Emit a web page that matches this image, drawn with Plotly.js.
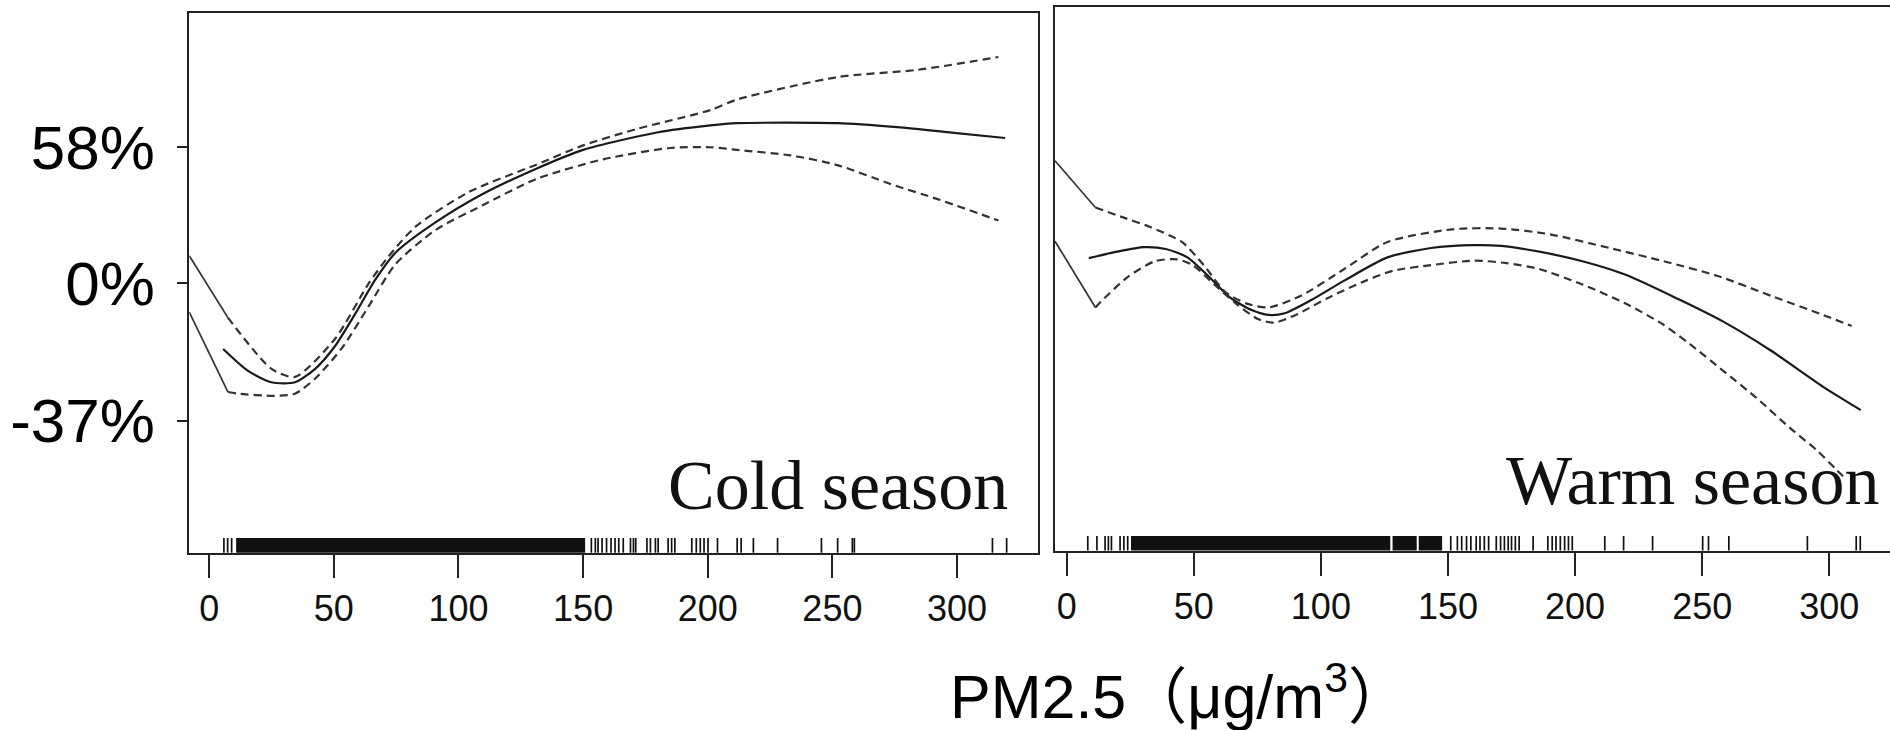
<!DOCTYPE html>
<html><head><meta charset="utf-8">
<script src="https://cdn.plot.ly/plotly-3.0.1.min.js"></script>
<style>html,body{margin:0;padding:0;background:#fff;} #chart{width:1890px;height:730px;}</style>
</head><body><div id="chart"></div>
<script>
// ---- Data (percent change in risk vs PM2.5, µg/m3) ----
const xTicks = [0, 50, 100, 150, 200, 250, 300];
const yTickRR = [0.63, 1, 1.58];
const yTickText = ['-37%', '0%', '58%'];
const panelLabels = ['Cold season', 'Warm season'];
const xTitle = 'PM2.5（μg/m<sup>3</sup>）';

// Cold season
const coldCenterX = [5.6, 15.6, 25, 34.4, 42.5, 50.5, 58.6, 66.7, 74.7, 90.9, 109.7, 131.2, 150, 179.6, 201, 211.8, 252, 276, 297.8, 319.3];
const coldCenterP = [-19.8, -25.5, -28.3, -28.3, -25, -19, -9.7, 1.3, 10.8, 22.8, 35, 47, 56.6, 66, 70, 71.3, 71.3, 69, 66, 63];
const coldUpperX = [-8, 7.5, 25, 34.4, 50.5, 64, 72, 82.8, 104.3, 131.2, 150, 171.5, 201, 211.8, 252, 284.4, 316.6];
const coldUpperP = [9.7, -10.9, -25, -27, -17, 0, 9.5, 21, 36, 49, 59, 68, 79, 85.5, 100, 105, 114];
const coldLowerX = [-8, 7.5, 11.6, 26.3, 34.4, 42.5, 53.2, 64, 74.7, 90.9, 109.7, 131.2, 158, 184.9, 201, 211.8, 233.3, 252, 273.6, 292.5, 316.6];
const coldLowerP = [-9.2, -30.6, -31, -31.5, -31, -27.4, -19.6, -7.4, 6.6, 19.7, 30, 42, 51.7, 57.6, 58, 56.6, 53.7, 48.8, 39.5, 32.6, 23.5];

// Warm season
const warmCenterX = [8.7, 19.8, 30.4, 39, 47.5, 56, 64.5, 73, 79.4, 85.8, 96.4, 109.2, 126.2, 143.3, 160.3, 171, 185.9, 202.9, 219.9, 241.2, 258.3, 276.7, 297.6, 312.4];
const warmCenterP = [8.8, 11.2, 12.9, 12.2, 9.1, 2.2, -4.8, -8.7, -10.1, -9.6, -5.4, 0.9, 9.1, 12.6, 13.7, 13.4, 11.2, 7.7, 2.9, -5.4, -12.1, -20.1, -29.4, -34.7];
const warmUpperX = [-4.6, 11.3, 21.9, 32.6, 45.3, 53.9, 62.4, 70.9, 79.4, 92.2, 109.2, 126.2, 151.8, 171, 190.1, 213.5, 234.8, 256.1, 278, 297.6, 308.8];
const warmUpperP = [51, 29, 24.9, 20.9, 14.9, 6.3, -2.9, -6.6, -7.8, -4.1, 4.9, 14.9, 19.9, 20.2, 17.9, 12.6, 7.7, 2.5, -4.4, -10.1, -13.4];
const warmLowerX = [-4.6, 11.3, 13.4, 24.1, 34.7, 43.2, 49.6, 58.1, 66.6, 75.2, 81.5, 90.1, 102.8, 117.7, 128.4, 143.3, 160.3, 173.1, 185.9, 202.9, 219.9, 234.8, 245.2, 258.3, 271.4, 284.5, 295, 302.9, 306];
const warmLowerP = [15.2, -7.8, -6, 2.2, 7.7, 8.4, 6.3, -0.4, -6.6, -11.3, -12.4, -10.1, -4.8, 0.9, 4.3, 6.3, 7.9, 7, 4.9, -0.4, -6.6, -13, -18.5, -25.5, -32, -38.5, -42.9, -46.6, -48];

// Rug (observed PM2.5 values); dense stretches given as [from, to]
const rugColdX = [5.9, 7.4, 9.0, 153.3, 154.9, 156.0, 157.6, 159.4, 161.2, 162.8, 164.3, 166.1, 169.0, 170.2, 171.1, 175.6, 177.0, 179.0, 180.1, 184.1, 185.5, 186.8, 193.6, 195.4, 197.0, 198.5, 200.1, 203.9, 211.8, 213.4, 218.3, 228.0, 245.6, 252.1, 258.0, 258.8, 314.2, 319.9];
const rugColdDense = [[10.8, 150.8]];
const rugWarmX = [8.3, 11.9, 15.1, 16.4, 17.6, 21.0, 22.5, 24.0, 151.1, 153.7, 155.4, 157.3, 159.0, 161.1, 162.6, 164.3, 166.0, 169.0, 170.7, 172.2, 173.7, 175.0, 176.5, 178.0, 183.5, 189.3, 191.0, 192.5, 194.2, 195.9, 197.4, 198.9, 211.7, 219.1, 230.5, 250.2, 252.5, 260.5, 291.4, 310.6, 312.2];
const rugWarmDense = [[25.3, 127.3], [128.2, 137.7], [138.5, 147.7]];

// ---- Build ----
const rr = p => p.map(v => 1 + v / 100);
const solid = {color: '#1a1a1a', width: 2.2};
const dashed = {color: '#333', width: 2.2, dash: '8px,5px'};
const head = {color: '#333', width: 1.7};

function panelTraces(cx, cp, ux, up, lx, lp, xa, ya) {
  return [
    {x: cx, y: rr(cp), mode: 'lines', line: Object.assign({shape: 'spline', smoothing: 0.7}, solid), xaxis: xa, yaxis: ya, hoverinfo: 'skip'},
    {x: ux.slice(0, 2), y: rr(up.slice(0, 2)), mode: 'lines', line: head, xaxis: xa, yaxis: ya, hoverinfo: 'skip'},
    {x: ux.slice(1), y: rr(up.slice(1)), mode: 'lines', line: Object.assign({shape: 'spline', smoothing: 0.7}, dashed), xaxis: xa, yaxis: ya, hoverinfo: 'skip'},
    {x: lx.slice(0, 2), y: rr(lp.slice(0, 2)), mode: 'lines', line: head, xaxis: xa, yaxis: ya, hoverinfo: 'skip'},
    {x: lx.slice(1), y: rr(lp.slice(1)), mode: 'lines', line: Object.assign({shape: 'spline', smoothing: 0.7}, dashed), xaxis: xa, yaxis: ya, hoverinfo: 'skip'}
  ];
}

const data = [].concat(
  panelTraces(coldCenterX, coldCenterP, coldUpperX, coldUpperP, coldLowerX, coldLowerP, 'x', 'y'),
  panelTraces(warmCenterX, warmCenterP, warmUpperX, warmUpperP, warmLowerX, warmLowerP, 'x2', 'y2')
);

function rugShapes(xs, dense, xref, yref, top) {
  const s = xs.map(v => ({type: 'line', xref: xref, yref: yref + ' domain', x0: v, x1: v, y0: 0, y1: top, line: {color: '#111', width: 1.7}}));
  dense.forEach(d => s.push({type: 'rect', xref: xref, yref: yref + ' domain', x0: d[0], x1: d[1], y0: 0, y1: top, fillcolor: '#111', line: {width: 0}}));
  return s;
}

const tickFont = {family: 'Liberation Sans, Arial, sans-serif', size: 36, color: '#111'};
const xBase = {
  tickmode: 'array', tickvals: xTicks, ticktext: xTicks.map(String),
  ticks: 'outside', ticklen: 23, tickwidth: 2, tickcolor: '#222',
  showline: true, mirror: true, linecolor: '#222', linewidth: 2,
  showgrid: false, zeroline: false, tickfont: tickFont, ticklabelstandoff: 0, automargin: false, fixedrange: true
};
const layout = {
  width: 1890, height: 730,
  margin: {l: 0, r: 0, t: 0, b: 0},
  paper_bgcolor: '#fff', plot_bgcolor: '#fff',
  showlegend: false,
  xaxis: Object.assign({}, xBase, {domain: [0.10016, 0.54937], range: [-7.98, 332.6], anchor: 'y'}),
  xaxis2: Object.assign({}, xBase, {domain: [0.5582, 1], range: [-4.6, 323.9], anchor: 'y2'}),
  yaxis: {
    type: 'log', domain: [0.24288, 0.98178], range: [-0.3933, 0.3942], anchor: 'x',
    tickmode: 'array', tickvals: yTickRR, ticktext: yTickText,
    ticks: 'outside', ticklen: 10, tickwidth: 2, tickcolor: '#222',
    showline: true, mirror: true, linecolor: '#222', linewidth: 2,
    showgrid: false, zeroline: false, ticklabelstandoff: 10, automargin: false, fixedrange: true,
    tickfont: {family: 'Liberation Sans, Arial, sans-serif', size: 62, color: '#000'}
  },
  yaxis2: {
    type: 'log', domain: [0.24589, 0.99], range: [-0.3901, 0.4029], anchor: 'x2',
    showticklabels: false, ticks: '',
    showline: true, mirror: true, linecolor: '#222', linewidth: 2,
    showgrid: false, zeroline: false, automargin: false, fixedrange: true
  },
  shapes: [].concat(
    rugShapes(rugColdX, rugColdDense, 'x', 'y', 0.0273),
    rugShapes(rugWarmX, rugWarmDense, 'x2', 'y2', 0.0267)
  ),
  annotations: [
    {text: panelLabels[0], xref: 'paper', yref: 'paper', x: 0.5344, y: 0.3356, xanchor: 'right', yanchor: 'middle', showarrow: false,
     font: {family: 'Liberation Serif, Times New Roman, serif', size: 70, color: '#111'}},
    {text: panelLabels[1], xref: 'paper', yref: 'paper', x: 0.9952, y: 0.3419, xanchor: 'right', yanchor: 'middle', showarrow: false,
     font: {family: 'Liberation Serif, Times New Roman, serif', size: 70, color: '#111'}},
    {text: xTitle, xref: 'paper', yref: 'paper', x: 0.6243, y: 0.052, xanchor: 'center', yanchor: 'middle', showarrow: false,
     font: {family: 'Liberation Sans, Arial, Noto Sans CJK SC, sans-serif', size: 61, color: '#000'}}
  ]
};

Plotly.newPlot('chart', data, layout, {displayModeBar: false, staticPlot: true});
</script>
</body></html>
